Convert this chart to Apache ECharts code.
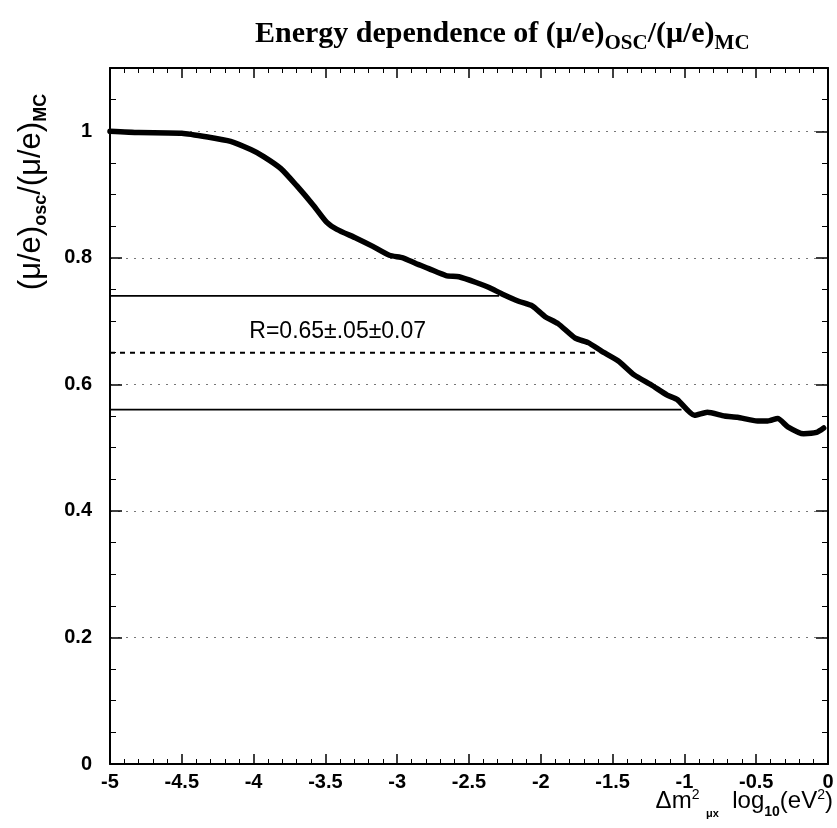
<!DOCTYPE html>
<html><head><meta charset="utf-8">
<script src="https://cdn.jsdelivr.net/npm/echarts@6/dist/echarts.min.js"></script>
<style>html,body{margin:0;padding:0;background:#fff}#c{width:837px;height:828px}</style>
</head><body><div id="c"></div>
<script>
// ---- data ----
const curveX = [-5.0, -4.8, -4.5, -4.32, -4.16, -4.02, -3.93, -3.81, -3.70, -3.58, -3.49, -3.42, -3.285, -3.17, -3.055, -2.96, -2.87, -2.78, -2.66, -2.57, -2.45, -2.36, -2.27, -2.15, -2.06, -1.97, -1.88, -1.76, -1.67, -1.58, -1.46, -1.35, -1.23, -1.12, -1.05, -0.93, -0.84, -0.72, -0.63, -0.49, -0.42, -0.35, -0.28, -0.17, -0.08, -0.03];
const curveY = [1.0, 0.998, 0.997, 0.991, 0.984, 0.971, 0.960, 0.941, 0.914, 0.882, 0.856, 0.845, 0.831, 0.818, 0.804, 0.800, 0.791, 0.783, 0.772, 0.770, 0.761, 0.753, 0.743, 0.731, 0.724, 0.707, 0.696, 0.673, 0.666, 0.653, 0.637, 0.615, 0.599, 0.583, 0.576, 0.551, 0.556, 0.550, 0.548, 0.542, 0.542, 0.546, 0.533, 0.522, 0.524, 0.531];
const rCentral = 0.65;
const rUpper = 0.74;
const rLower = 0.56;
const upperLineX = [-5, -2.29];
const centralLineX = [-5, -1.60];
const lowerLineX = [-5, -1.02];
const annotationText = 'R=0.65±.05±0.07';
const annotationAt = [-4.03, 0.683];
const xRange = [-5, 0];
const yRange = [0, 1.1];
const xStep = 0.5;
const yStep = 0.2;

const chart = echarts.init(document.getElementById('c'), null, {renderer: 'canvas'});
const SANS = 'Liberation Sans';
const SERIF = 'Liberation Serif';
const axisLineStyle = {color: '#000', width: 2};

function xAxisDef(pos, labels) {
  return {
    type: 'value', min: xRange[0], max: xRange[1], interval: xStep, position: pos,
    axisLine: {show: true, onZero: false, lineStyle: axisLineStyle},
    axisTick: {show: true, inside: true, length: 10, lineStyle: {color: '#000', width: 1.5}},
    minorTick: {show: true, splitNumber: 5, length: 5, lineStyle: {color: '#000', width: 1}},
    axisLabel: {show: labels, color: '#000', fontWeight: 'bold', fontSize: 20, fontFamily: SANS, margin: 8},
    splitLine: {show: false}
  };
}
function yAxisDef(pos, labels) {
  return {
    type: 'value', min: yRange[0], max: yRange[1], interval: yStep, position: pos,
    axisLine: {show: true, onZero: false, lineStyle: axisLineStyle},
    axisTick: {show: true, inside: true, length: 12, lineStyle: {color: '#000', width: 1.5}},
    minorTick: {show: true, splitNumber: 4, length: 6, lineStyle: {color: '#000', width: 1}},
    axisLabel: {show: labels, showMaxLabel: false, color: '#000', fontWeight: 'bold', fontSize: 20, fontFamily: SANS, margin: 18},
    splitLine: {show: labels, lineStyle: {type: [2, 6], color: '#777', width: 1}}
  };
}

const option = {
  animation: false,
  backgroundColor: '#fff',
  title: {
    text: 'Energy dependence of (μ/e){s|OSC}/(μ/e){s|MC}',
    left: 250, top: 9,
    textStyle: {
      fontFamily: SERIF, fontWeight: 'bold', fontSize: 30, color: '#000', lineHeight: 40,
      rich: {s: {fontFamily: SERIF, fontWeight: 'bold', fontSize: 21, lineHeight: 20, verticalAlign: 'bottom', color: '#000'}}
    }
  },
  grid: {left: 110, right: 9, top: 68, bottom: 64},
  xAxis: [xAxisDef('bottom', true), xAxisDef('top', false)],
  yAxis: [yAxisDef('left', true), yAxisDef('right', false)],
  graphic: [
    {
      type: 'text', x: 31, y: 192, rotation: Math.PI / 2,
      style: {
        text: '(μ/e){s|osc}/(μ/e){s|MC}',
        font: '31px "Liberation Sans"', fill: '#000', align: 'center', verticalAlign: 'middle',
        rich: {
          s: {fontSize: 18, fontWeight: 'bold', fontFamily: SANS, lineHeight: 16, verticalAlign: 'bottom', fill: '#000'}
        },
        lineHeight: 38
      }
    },
    {
      type: 'text', x: 833, y: 801,
      style: {
        text: 'Δm{sup|2} {mu|μx}  log{sub|10}(eV{sup|2})',
        font: '24px "Liberation Sans"', fill: '#000', align: 'right', verticalAlign: 'middle',
        lineHeight: 36,
        rich: {
          sup: {fontSize: 14, fontFamily: SANS, lineHeight: 14, verticalAlign: 'middle', padding: [0, 0, 12, 0], fill: '#000'},
          sub: {fontSize: 14, fontFamily: SANS, fontWeight: 'bold', lineHeight: 15, verticalAlign: 'bottom', fill: '#000'},
          mu: {fontSize: 11, fontFamily: SANS, fontWeight: 'bold', lineHeight: 12, verticalAlign: 'bottom', fill: '#000'}
        }
      }
    }
  ],
  series: [
    {
      type: 'line', name: 'ratio', data: curveX.map((x, i) => [x, curveY[i]]),
      showSymbol: false, smooth: 0.2, z: 5,
      lineStyle: {color: '#000', width: 5.5, cap: 'round', join: 'round'}
    },
    {
      type: 'line', name: 'upper', data: upperLineX.map(x => [x, rUpper]),
      showSymbol: false, lineStyle: {color: '#000', width: 1.8}
    },
    {
      type: 'line', name: 'central', data: centralLineX.map(x => [x, rCentral]),
      showSymbol: false, lineStyle: {color: '#000', width: 1.8, type: [5, 5]}
    },
    {
      type: 'line', name: 'lower', data: lowerLineX.map(x => [x, rLower]),
      showSymbol: false, lineStyle: {color: '#000', width: 1.8}
    },
    {
      type: 'scatter', name: 'note', data: [annotationAt], symbolSize: 0, silent: true,
      itemStyle: {color: '#000'},
      label: {show: true, position: 'right', distance: 0, formatter: annotationText,
        fontSize: 23, fontFamily: SANS, color: '#000', opacity: 1, textBorderWidth: 0}
    }
  ]
};
chart.setOption(option);
</script></body></html>
